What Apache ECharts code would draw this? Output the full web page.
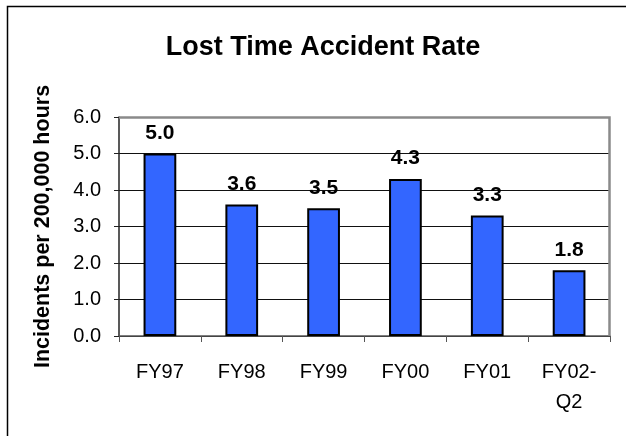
<!DOCTYPE html>
<html>
<head>
<meta charset="utf-8">
<script src="https://cdn.jsdelivr.net/npm/echarts@6/dist/echarts.min.js"></script>
<style>
  html, body { margin: 0; padding: 0; background: #fff; }
  #myChart { width: 626px; height: 436px; }
</style>
</head>
<body>
<div id="myChart"></div>
<script>
// chart data
var categories = ['FY97', 'FY98', 'FY99', 'FY00', 'FY01', 'FY02-\nQ2']
var rates = [5.0, 3.6, 3.5, 4.3, 3.3, 1.8]
var yTicks = [0, 1, 2, 3, 4, 5, 6]

var chart = echarts.init(document.getElementById('myChart'))
var font = 'Liberation Sans, Arial, sans-serif'

chart.setOption({
  backgroundColor: '#fff',
  animation: false,
  title: {
    text: 'Lost Time Accident Rate',
    left: 318,
    top: 29,
    textAlign: 'center',
    textStyle: { fontFamily: font, fontSize: 27, fontWeight: 'bold', color: '#000' }
  },
  graphic: [{
    // outer frame (only left and top edges fall inside the picture)
    type: 'rect',
    shape: { x: 7.5, y: 6.5, width: 700, height: 500 },
    style: { fill: null, stroke: '#000', lineWidth: 1.5 },
    z: 100
  }, {
    // plot area right/top border
    type: 'polyline',
    shape: { points: [[119, 117.5], [609.5, 117.5], [609.5, 336]] },
    style: { stroke: '#8a8a8a', lineWidth: 2.5, fill: null },
    z: 10
  }],
  grid: { left: 119, right: 16, top: 117, bottom: 100 },
  xAxis: {
    type: 'category',
    data: categories,
    axisLine: { lineStyle: { color: '#555', width: 1.5 } },
    axisTick: { show: true, length: 6, lineStyle: { color: '#555' } },
    axisLabel: {
      fontFamily: font, fontSize: 20, color: '#000', margin: 21, lineHeight: 30
    }
  },
  yAxis: {
    type: 'value',
    min: yTicks[0],
    max: yTicks[yTicks.length - 1],
    interval: 1,
    name: 'Incidents per 200,000 hours',
    nameLocation: 'middle',
    nameGap: 65,
    nameTextStyle: { fontFamily: font, fontSize: 21.5, fontWeight: 'bold', color: '#000' },
    axisLine: { show: true, lineStyle: { color: '#222', width: 1.5 } },
    axisTick: { show: true, length: 5, lineStyle: { color: '#222' } },
    axisLabel: {
      fontFamily: font, fontSize: 20, color: '#000', margin: 18,
      formatter: function (v) { return v.toFixed(1) }
    },
    splitLine: { lineStyle: { color: '#111', width: 1 } }
  },
  series: [{
    type: 'bar',
    data: rates,
    barWidth: '40%',
    itemStyle: { color: '#3366ff', borderColor: '#000', borderWidth: 2 },
    label: {
      show: true,
      position: 'top',
      distance: 10,
      fontFamily: font,
      fontSize: 21,
      fontWeight: 'bold',
      color: '#000',
      formatter: function (p) { return p.value.toFixed(1) }
    }
  }]
})
</script>
</body>
</html>
